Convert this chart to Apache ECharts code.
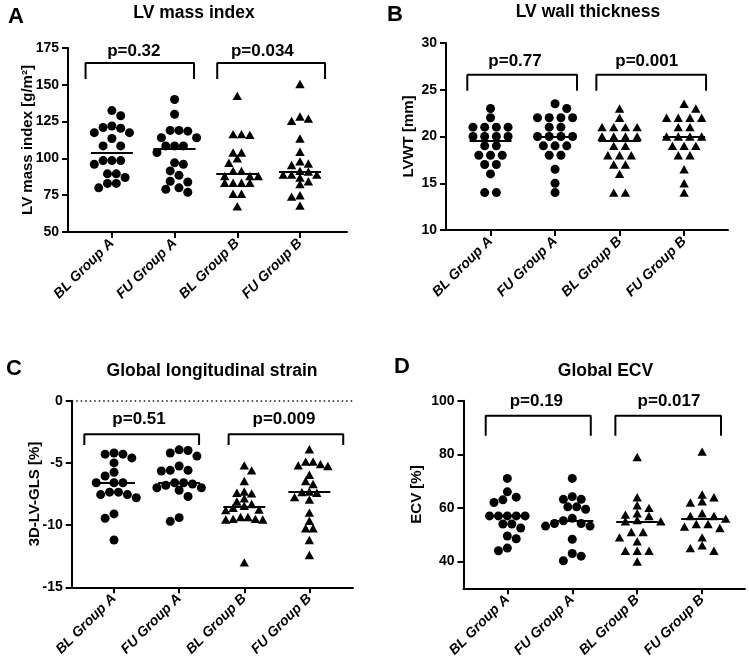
<!DOCTYPE html>
<html><head><meta charset="utf-8">
<script src="https://cdn.jsdelivr.net/npm/echarts@6/dist/echarts.min.js"></script>
<style>html,body{margin:0;padding:0;background:#fff}#c{width:749px;height:667px}</style>
</head><body><div id="c"></div>
<script>
// ---------------- DATA ----------------
const categories = ['BL Group A', 'FU Group A', 'BL Group B', 'FU Group B'];

// A: LV mass index [g/m2]
const massBLA = [132.5, 129, 122, 121, 120.5, 117.5, 117.5, 113.5, 108.5, 108.5, 98.5, 98.5, 98.5, 96, 89.5, 89.5, 87, 83, 83, 80];
const massFUA = [140, 130, 119, 118.5, 119, 114, 114, 108.5, 108.5, 108.5, 104, 97, 96, 91.5, 88.5, 84.5, 84, 80, 79, 77];
const massBLB = [142.5, 116.5, 116.5, 116, 104, 104, 100, 97, 91.5, 91.5, 88, 88, 88, 83.5, 83.5, 83.5, 83.5, 76, 76, 67.5];
const massFUB = [150.5, 128.5, 127, 125.5, 113.5, 104.5, 98, 96.5, 95.5, 91.5, 91, 89, 89, 89, 87, 84.5, 82.5, 75, 74, 68];
const pTextsA = ['p=0.32', 'p=0.034'];

// B: LV wall thickness [mm]
const lvwtBLA = [23, 22, 21, 21, 21, 21, 20, 20, 20, 20, 19, 19, 18, 18, 18, 17, 17, 16, 14, 14];
const lvwtFUA = [23.5, 23, 22, 22, 22, 22, 21, 21, 20, 20, 20, 20, 19, 19, 19, 18, 18, 16.5, 15, 14];
const lvwtBLB = [23, 22, 21, 21, 21, 21, 20, 20, 20, 20, 19, 19, 18, 18, 18, 17, 17, 16, 14, 14];
const lvwtFUB = [23.5, 23, 22, 22, 22, 22, 21, 21, 20, 20, 20, 20, 19, 19, 19, 18, 18, 16.5, 15, 14];
const pTextsB = ['p=0.77', 'p=0.001'];

// C: Global longitudinal strain [%]
const glsBLA = [-4.2, -4.3, -4.3, -4.6, -5.0, -5.75, -6.05, -6.6, -6.6, -6.6, -7.35, -7.35, -7.55, -7.55, -7.8, -9.1, -9.45, -11.2];
const glsFUA = [-3.95, -4.0, -4.2, -4.45, -5.25, -5.6, -5.6, -5.65, -6.6, -6.6, -6.7, -6.8, -7.0, -7.0, -7.2, -7.7, -9.4, -9.7];
const glsBLB = [-5.2, -5.6, -6.45, -7.3, -7.4, -7.45, -7.85, -8.1, -8.3, -8.45, -8.6, -8.75, -8.8, -9.35, -9.5, -9.55, -9.55, -9.5, -9.35, -13.0];
const glsFUB = [-3.9, -4.9, -4.9, -5.1, -5.2, -5.25, -5.95, -6.45, -6.7, -7.3, -7.4, -7.35, -7.75, -7.95, -9.0, -9.65, -10.25, -10.25, -11.2, -12.4];
const pTextsC = ['p=0.51', 'p=0.009'];

// D: Global ECV [%]
const ecvBLA = [71, 66, 64, 63, 62, 57, 57, 57, 57, 57, 54, 54, 52.5, 49.5, 48.5, 45, 44];
const ecvFUA = [71, 64.2, 63.2, 63.2, 60.4, 60.4, 59.5, 56.1, 55.2, 54.2, 54.2, 53.2, 53.2, 48.3, 43, 42, 40.3];
const ecvBLB = [79, 64, 61, 60, 58, 57.5, 57, 55.5, 55, 55, 51, 51, 49, 47.5, 44, 44, 44, 40];
const ecvFUB = [81, 65, 64, 62.5, 62, 58, 57, 57, 56, 54, 54, 53, 52.5, 49, 46, 45, 44];
const pTextsD = ['p=0.19', 'p=0.017'];

const yTicksD = [40, 60, 80, 100];
const xTickValues = [0, 1, 2, 3];

// ---------------- LAYOUT / STYLE ----------------
const FONT = '"Liberation Sans", Arial, Helvetica, sans-serif';
const panels = [
  { letter: 'A', letterPos: [16, 17], title: 'LV mass index', titlePos: [194, 13],
    yName: 'LV mass index [g/m²]', nameGap: 33,
    grid: { left: 68, top: 48, width: 279, height: 184 }, xRange: [-0.70, 3.75],
    yAxis: { min: 50, max: 175, interval: 25 },
    groups: [massBLA, massFUA, massBLB, massFUB], pTexts: pTextsA,
    brackets: [[-0.42, 1.31, 164.8, 154], [1.68, 3.40, 164.8, 154]],
    pPos: [[0.35, 172.7], [2.4, 172.7]], gap: { circle: 8.8, triangle: 8.4 } },
  { letter: 'B', letterPos: [395, 15], title: 'LV wall thickness', titlePos: [588, 12.5],
    yName: 'LVWT [mm]', nameGap: 30,
    grid: { left: 446, top: 43, width: 282, height: 187 }, xRange: [-0.69, 3.68],
    yAxis: { min: 10, max: 30, interval: 5 },
    groups: [lvwtBLA, lvwtFUA, lvwtBLB, lvwtFUB], pTexts: pTextsB,
    brackets: [[-0.36, 1.34, 26.6, 24.9], [1.64, 3.34, 26.6, 24.9]],
    pPos: [[0.38, 28.0], [2.42, 28.0]], gap: { circle: 11.7, triangle: 11.7 } },
  { letter: 'C', letterPos: [14, 369], title: 'Global longitudinal strain', titlePos: [212, 371],
    yName: '3D-LV-GLS [%]', nameGap: 29,
    grid: { left: 71.7, top: 400.7, width: 281.3, height: 186.6 }, xRange: [-0.65, 3.67],
    yAxis: { min: -15, max: 0, interval: 5 }, zeroLine: true,
    groups: [glsBLA, glsFUA, glsBLB, glsFUB], pTexts: pTextsC,
    brackets: [[-0.456, 1.306, -2.7, -3.56], [1.76, 3.52, -2.7, -3.56]],
    pPos: [[0.384, -1.47], [2.61, -1.47]], gap: { circle: 8.9, triangle: 7.4 } },
  { letter: 'D', letterPos: [402, 367], title: 'Global ECV', titlePos: [605.5, 371],
    yName: 'ECV [%]', nameGap: 39,
    grid: { left: 463.5, top: 400.7, width: 281.5, height: 187.6 }, xRange: [-0.675, 3.66],
    yAxis: { min: 30, max: 100, custom: yTicksD },
    groups: [ecvBLA, ecvFUA, ecvBLB, ecvFUB], pTexts: pTextsD,
    brackets: [[-0.333, 1.285, 94.4, 86.9], [1.664, 3.29, 94.4, 86.9]],
    pPos: [[0.447, 99.6], [2.49, 99.6]], gap: { circle: 8.9, triangle: 11.8 } }
];
const SYMBOLS = ['circle', 'circle', 'triangle', 'triangle'];
const SYMSIZE = { circle: 9, triangle: [9.4, 8.4] };
const ROW_H = { circle: 8.6, triangle: 6.5 };
const MED_HALF_PX = 21;

function median(a) {
  const s = a.slice().sort((x, y) => x - y);
  const n = s.length;
  return n % 2 ? s[(n - 1) / 2] : (s[n / 2 - 1] + s[n / 2]) / 2;
}

// beeswarm layout (pixel units) computed from the values
function swarm(vals, gx, gy, pyPerUnit) {
  const n = vals.length;
  const order = vals.map((v, i) => i).sort((a, b) => vals[b] - vals[a]);
  const placed = [];
  const off = new Array(n).fill(0);
  const free = (x, y) => placed.every(p => ((p.x - x) / gx) ** 2 + ((p.y - y) / gy) ** 2 >= 0.999);
  const side = () => placed.reduce((a, p) => a + Math.sign(p.x), 0);
  let k = 0;
  while (k < n) {
    let j = k;
    while (j + 1 < n && vals[order[j + 1]] === vals[order[k]]) j++;
    const grp = order.slice(k, j + 1);
    const m = grp.length;
    const y = vals[order[k]] * pyPerUnit;
    const compact = grp.map((_, i) => (i - (m - 1) / 2) * gx);
    if (m > 1 && compact.every(x => free(x, y))) {
      grp.forEach((gi, i) => { off[gi] = compact[i]; placed.push({ x: compact[i], y }); });
    } else {
      grp.forEach(gi => {
        for (let s = 0; s < 80; s++) {
          const mag = s * gx / 2;
          const cands = mag === 0 ? [0] : (side() > 0 ? [-mag, mag] : [mag, -mag]);
          const c = cands.find(x => free(x, y));
          if (c !== undefined) { off[gi] = c; placed.push({ x: c, y }); break; }
        }
      });
    }
    k = j + 1;
  }
  return off;
}

const chart = echarts.init(document.getElementById('c'), null, { renderer: 'canvas' });
const grids = [], xAxes = [], yAxes = [], graphics = [], baseSeries = [];
const black = '#000';

panels.forEach((P, g) => {
  grids.push(Object.assign({ outerBoundsMode: 'none', containLabel: false }, P.grid));
  xAxes.push({
    type: 'value', gridIndex: g, min: P.xRange[0], max: P.xRange[1],
    axisLine: { show: true, onZero: false, lineStyle: { color: black, width: 2 } },
    axisTick: { show: true, customValues: xTickValues, length: 6, lineStyle: { color: black, width: 2 } },
    axisLabel: { show: true, customValues: xTickValues, rotate: 45, margin: 9,
      formatter: v => categories[Math.round(v)] || '',
      color: black, fontFamily: FONT, fontSize: 14, fontWeight: 'bold', fontStyle: 'italic' },
    splitLine: { show: false }
  });
  const ya = {
    type: 'value', gridIndex: g, min: P.yAxis.min, max: P.yAxis.max,
    name: P.yName, nameLocation: 'middle', nameGap: P.nameGap, nameMoveOverlap: false,
    nameTextStyle: { color: black, fontFamily: FONT, fontSize: 15, fontWeight: 'bold' },
    axisLine: { show: true, onZero: false, lineStyle: { color: black, width: 2 } },
    axisTick: { show: true, length: 6, lineStyle: { color: black, width: 2 } },
    axisLabel: { color: black, fontFamily: FONT, fontSize: 14, fontWeight: 'bold', margin: 9 },
    splitLine: { show: false }
  };
  if (P.yAxis.custom) {
    ya.axisTick.customValues = P.yAxis.custom;
    ya.axisLabel.customValues = P.yAxis.custom;
  } else {
    ya.interval = P.yAxis.interval;
  }
  yAxes.push(ya);

  graphics.push({ type: 'text', x: P.letterPos[0], y: P.letterPos[1],
    style: { text: P.letter, fill: black, font: 'bold 22px ' + FONT, textAlign: 'center', textVerticalAlign: 'middle' } });
  graphics.push({ type: 'text', x: P.titlePos[0], y: P.titlePos[1],
    style: { text: P.title, fill: black, font: 'bold 17.5px ' + FONT, textAlign: 'center', textVerticalAlign: 'middle' } });

  // brackets
  P.brackets.forEach(b => {
    baseSeries.push({
      type: 'line', xAxisIndex: g, yAxisIndex: g, silent: true, symbol: 'none', animation: false,
      lineStyle: { color: black, width: 2 }, z: 5,
      data: [[b[0], b[3]], [b[0], b[2]], [b[1], b[2]], [b[1], b[3]]]
    });
  });
  // p-value labels
  baseSeries.push({
    type: 'scatter', xAxisIndex: g, yAxisIndex: g, silent: true, symbolSize: 0, animation: false,
    itemStyle: { opacity: 1, color: black },
    data: P.pPos.map((p, i) => ({ value: p, name: P.pTexts[i] })),
    label: { show: true, position: 'inside', formatter: q => q.name, color: black, opacity: 1,
      fontFamily: FONT, fontSize: 17, fontWeight: 'bold' }
  });
});

chart.setOption({
  animation: false, backgroundColor: '#fff',
  grid: grids, xAxis: xAxes, yAxis: yAxes, graphic: graphics, series: baseSeries
});

const dataSeries = [];
panels.forEach((P, g) => {
  const y0 = P.yAxis.min;
  const p0 = chart.convertToPixel({ gridIndex: g }, [0, y0]);
  const p1 = chart.convertToPixel({ gridIndex: g }, [1, y0 + 1]);
  const pxX = p1[0] - p0[0];
  const pxY = p0[1] - p1[1];
  P.groups.forEach((vals, ci) => {
    const sym = SYMBOLS[ci];
    const off = swarm(vals, P.gap[sym], ROW_H[sym], pxY);
    const med = median(vals);
    const half = MED_HALF_PX / pxX;
    const s = {
      type: 'scatter', xAxisIndex: g, yAxisIndex: g, silent: true, animation: false,
      symbol: sym, symbolSize: SYMSIZE[sym],
      itemStyle: { color: black, opacity: 1 },
      data: vals.map((v, i) => [ci + off[i] / pxX, v]),
      markLine: {
        silent: true, symbol: ['none', 'none'], animation: false,
        label: { show: false },
        lineStyle: { color: black, width: 2, type: 'solid' },
        data: [[{ coord: [ci - half, med] }, { coord: [ci + half, med] }]]
      },
      z: 3
    };
    if (P.zeroLine && ci === 0) {
      s.markLine.data.push({ yAxis: 0, lineStyle: { type: [1.5, 3], width: 1.5, color: '#111' } });
    }
    dataSeries.push(s);
  });
});
chart.setOption({ series: baseSeries.concat(dataSeries) });
</script>
</body></html>
